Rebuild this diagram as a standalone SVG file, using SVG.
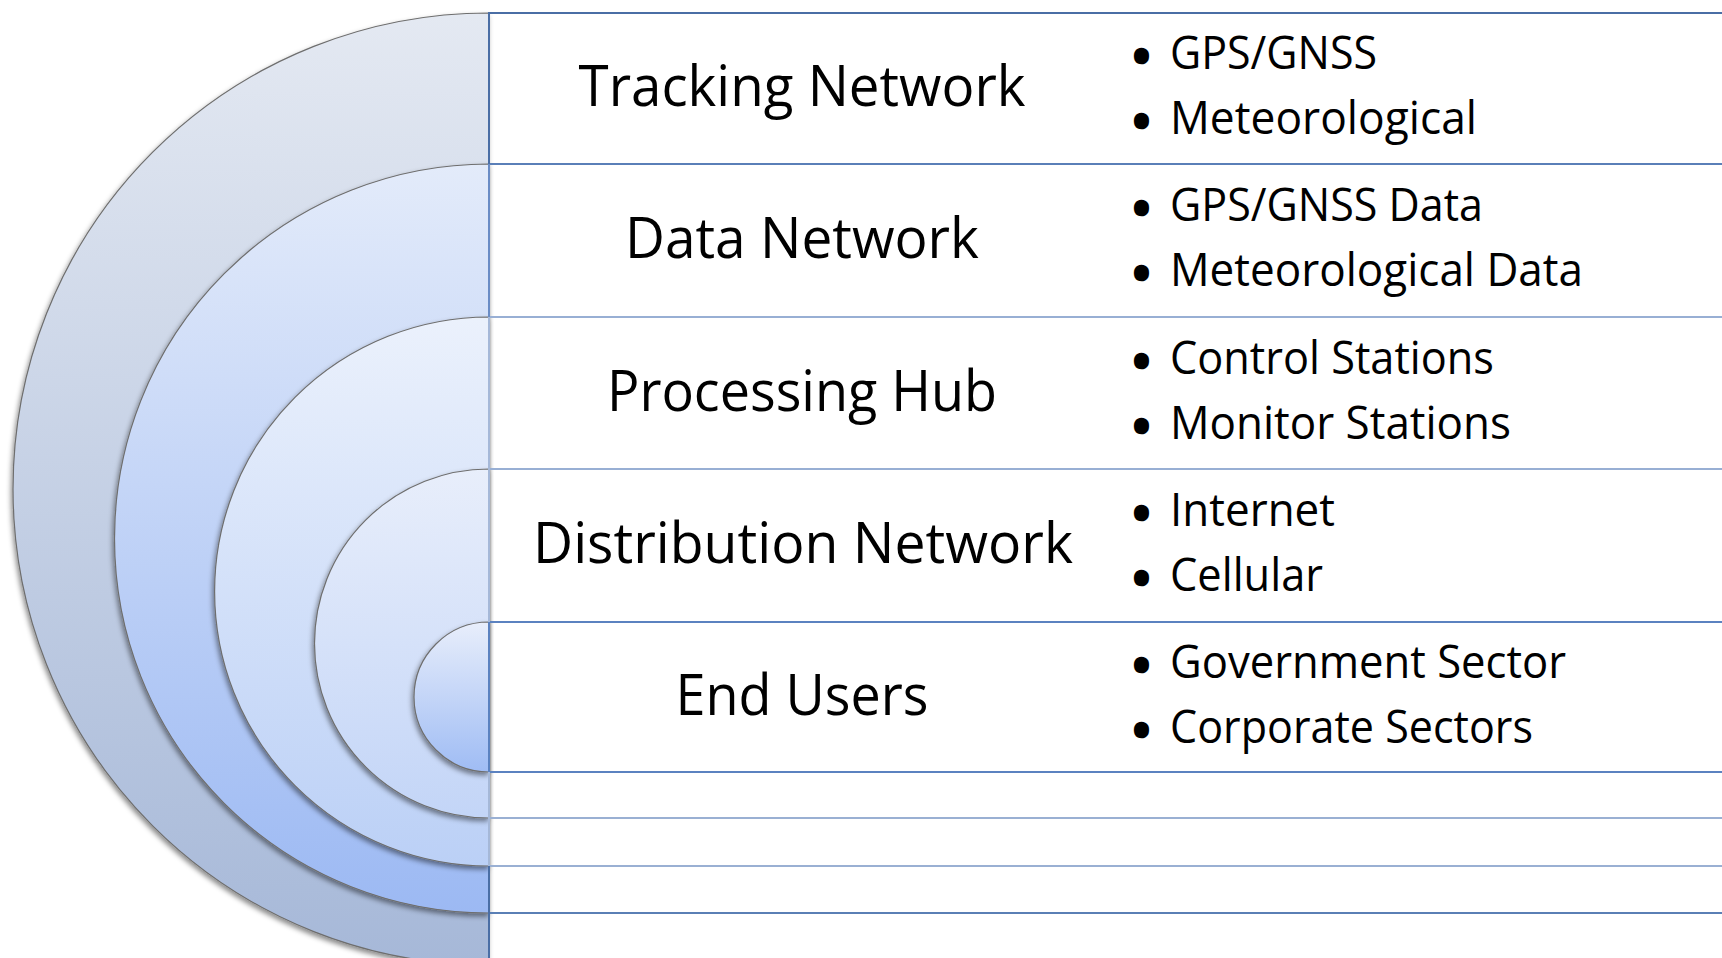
<svg xmlns="http://www.w3.org/2000/svg" width="1722" height="958" viewBox="0 0 1722 958">
<style>
.lbl{font-family:"Open Sans","Noto Sans",sans-serif;font-size:56px;fill:#000;text-anchor:middle}
.bul{font-family:"Open Sans","Noto Sans",sans-serif;font-size:45px;fill:#000}
.dot{font-family:"Open Sans","Noto Sans",sans-serif;font-size:45px;font-weight:700;fill:#000;stroke:#000;stroke-width:2.5}
.disc{stroke:#6e6e6e;stroke-width:1.2;filter:url(#sh)}
</style>
<defs>
<filter id="sh" x="-10%" y="-10%" width="120%" height="120%">
<feDropShadow dx="-1.5" dy="3" stdDeviation="2.5" flood-color="#000" flood-opacity="0.45"/>
</filter>
<linearGradient id="g1" x1="0" y1="0" x2="0" y2="1"><stop offset="0" stop-color="#e4e9f2"/><stop offset="1" stop-color="#a6b8d8"/></linearGradient>
<linearGradient id="g2" x1="0" y1="0" x2="0" y2="1"><stop offset="0" stop-color="#e3ebfa"/><stop offset="1" stop-color="#9cb9f3"/></linearGradient>
<linearGradient id="g3" x1="0" y1="0" x2="0" y2="1"><stop offset="0" stop-color="#ebf1fc"/><stop offset="1" stop-color="#bbd0f6"/></linearGradient>
<linearGradient id="g4" x1="0" y1="0" x2="0" y2="1"><stop offset="0" stop-color="#e8eefb"/><stop offset="1" stop-color="#c3d5f7"/></linearGradient>
<linearGradient id="g5" x1="0" y1="0" x2="0" y2="1"><stop offset="0" stop-color="#e8eefb"/><stop offset="1" stop-color="#9fbcf4"/></linearGradient>
</defs>
<rect width="1722" height="958" fill="#fff"/>
<g id="discs">
<path id="disc1" class="disc" fill="url(#g1)" d="M489,13 A476,476 0 0 0 489,965 Z"/>
<path id="disc2" class="disc" fill="url(#g2)" d="M489,164 A374.5,374.5 0 0 0 489,913 Z"/>
<path id="disc3" class="disc" fill="url(#g3)" d="M489,317 A274.5,274.5 0 0 0 489,866 Z"/>
<path id="disc4" class="disc" fill="url(#g4)" d="M489,469 A174.5,174.5 0 0 0 489,818 Z"/>
<path id="disc5" class="disc" fill="url(#g5)" d="M489,622 A75,75 0 0 0 489,772 Z"/>
</g>
<g id="connectors" stroke-width="2" fill="none">
<line x1="489" y1="13" x2="1722" y2="13" stroke="#4a6ea5"/>
<line x1="489" y1="164" x2="1722" y2="164" stroke="#5a7fb8"/>
<line x1="489" y1="317" x2="1722" y2="317" stroke="#98afd4"/>
<line x1="489" y1="469" x2="1722" y2="469" stroke="#98afd4"/>
<line x1="489" y1="622" x2="1722" y2="622" stroke="#5b82c0"/>
<line x1="489" y1="772" x2="1722" y2="772" stroke="#5b82c0"/>
<line x1="489" y1="818" x2="1722" y2="818" stroke="#9ab0d3"/>
<line x1="489" y1="866" x2="1722" y2="866" stroke="#9ab0d3"/>
<line x1="489" y1="913" x2="1722" y2="913" stroke="#5a7fb5"/>
<line x1="489" y1="12" x2="489" y2="164" stroke="#4a6ea5"/>
<line x1="489" y1="164" x2="489" y2="317" stroke="#6a8cc5"/>
<line x1="489" y1="317" x2="489" y2="622" stroke="#a5b8d8"/>
<line x1="489" y1="622" x2="489" y2="772" stroke="#5b82c0"/>
<line x1="489" y1="772" x2="489" y2="866" stroke="#a5b8d8"/>
<line x1="489" y1="866" x2="489" y2="958" stroke="#4a6ea5"/>
</g>
<g id="row1">
<text class="lbl" x="802" y="106" textLength="447" lengthAdjust="spacingAndGlyphs">Tracking Network</text>
<text class="dot" x="1133" y="72">•</text><text class="bul" x="1170" y="69" textLength="207" lengthAdjust="spacingAndGlyphs">GPS/GNSS</text>
<text class="dot" x="1133" y="137">•</text><text class="bul" x="1170" y="134" textLength="307" lengthAdjust="spacingAndGlyphs">Meteorological</text>
</g>
<g id="row2">
<text class="lbl" x="802" y="258" textLength="354" lengthAdjust="spacingAndGlyphs">Data Network</text>
<text class="dot" x="1133" y="224">•</text><text class="bul" x="1170" y="221" textLength="313" lengthAdjust="spacingAndGlyphs">GPS/GNSS Data</text>
<text class="dot" x="1133" y="289">•</text><text class="bul" x="1170" y="286" textLength="413" lengthAdjust="spacingAndGlyphs">Meteorological Data</text>
</g>
<g id="row3">
<text class="lbl" x="802" y="411" textLength="390" lengthAdjust="spacingAndGlyphs">Processing Hub</text>
<text class="dot" x="1133" y="377">•</text><text class="bul" x="1170" y="374" textLength="324" lengthAdjust="spacingAndGlyphs">Control Stations</text>
<text class="dot" x="1133" y="442">•</text><text class="bul" x="1170" y="439" textLength="341" lengthAdjust="spacingAndGlyphs">Monitor Stations</text>
</g>
<g id="row4">
<text class="lbl" x="803" y="563" textLength="540" lengthAdjust="spacingAndGlyphs">Distribution Network</text>
<text class="dot" x="1133" y="529">•</text><text class="bul" x="1170" y="526" textLength="165" lengthAdjust="spacingAndGlyphs">Internet</text>
<text class="dot" x="1133" y="594">•</text><text class="bul" x="1170" y="591" textLength="153" lengthAdjust="spacingAndGlyphs">Cellular</text>
</g>
<g id="row5">
<text class="lbl" x="802" y="715" textLength="253" lengthAdjust="spacingAndGlyphs">End Users</text>
<text class="dot" x="1133" y="681">•</text><text class="bul" x="1170" y="678" textLength="396" lengthAdjust="spacingAndGlyphs">Government Sector</text>
<text class="dot" x="1133" y="746">•</text><text class="bul" x="1170" y="743" textLength="363" lengthAdjust="spacingAndGlyphs">Corporate Sectors</text>
</g>
</svg>
